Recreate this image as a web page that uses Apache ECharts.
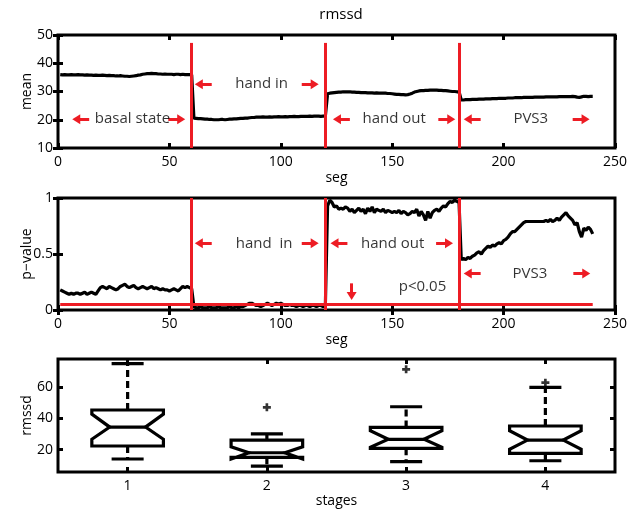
<!DOCTYPE html>
<html><head><meta charset="utf-8">
<script src="https://cdn.jsdelivr.net/npm/echarts@6/dist/echarts.min.js"></script>
<style>html,body{margin:0;padding:0;background:#fff}#c{width:641px;height:515px}</style>
</head><body><div id="c"></div>
<script>
// ---------- data ----------
const titleText = 'rmssd';
const xTicksSeg = [0, 50, 100, 150, 200, 250];
const stages = ['1', '2', '3', '4'];

// mean rmssd per segment (seg 1..240)
const meanVals = [
36.0,35.9,36.0,35.9,35.9,36.0,35.9,35.9,36.0,35.9,
35.9,35.8,35.9,35.8,35.8,35.7,35.8,35.7,35.7,35.8,
35.7,35.6,35.7,35.6,35.6,35.5,35.5,35.6,35.5,35.4,
35.4,35.3,35.4,35.5,35.6,35.8,35.9,36.1,36.2,36.3,
36.3,36.4,36.3,36.3,36.2,36.2,36.1,36.2,36.1,36.1,
36.1,36.0,36.1,36.1,36.0,36.1,36.0,36.0,36.0,35.9,
20.6,20.5,20.4,20.4,20.3,20.2,20.2,20.1,20.1,20.0,
20.0,20.0,20.1,20.1,20.0,20.1,20.2,20.2,20.3,20.3,
20.4,20.5,20.5,20.6,20.6,20.7,20.8,20.8,20.9,20.9,
20.9,21.0,20.9,20.9,21.0,20.9,21.0,21.0,21.1,21.0,
21.0,21.1,21.0,21.1,21.1,21.2,21.1,21.1,21.2,21.2,
21.2,21.2,21.3,21.2,21.3,21.3,21.3,21.2,21.3,21.3,
29.2,29.4,29.5,29.6,29.7,29.8,29.8,29.9,29.9,29.9,
29.9,29.8,29.8,29.7,29.7,29.6,29.6,29.6,29.5,29.5,
29.5,29.4,29.5,29.4,29.4,29.4,29.4,29.3,29.3,29.2,
29.1,29.0,29.0,28.9,28.9,28.8,28.9,29.1,29.4,29.8,
30.0,30.2,30.3,30.3,30.4,30.4,30.5,30.5,30.5,30.5,
30.4,30.4,30.3,30.3,30.2,30.1,30.0,30.0,29.9,29.9,
27.0,27.0,27.1,27.1,27.1,27.2,27.2,27.2,27.3,27.3,
27.3,27.4,27.4,27.4,27.5,27.5,27.5,27.6,27.6,27.6,
27.6,27.7,27.7,27.7,27.8,27.8,27.8,27.8,27.9,27.9,
27.9,27.9,27.9,28.0,28.0,28.0,28.0,28.0,28.1,28.1,
28.1,28.1,28.1,28.1,28.2,28.2,28.2,28.2,28.2,28.2,
28.3,28.2,28.0,27.9,28.1,28.3,28.3,28.2,28.3,28.3
];

// p-value per segment (seg 1..240)
const pVals = [
0.18,0.17,0.16,0.15,0.14,0.15,0.14,0.15,0.15,0.14,
0.15,0.16,0.14,0.15,0.16,0.15,0.14,0.17,0.20,0.21,
0.20,0.19,0.21,0.20,0.19,0.18,0.19,0.21,0.22,0.23,
0.21,0.20,0.21,0.22,0.20,0.19,0.20,0.21,0.20,0.19,
0.20,0.21,0.19,0.20,0.19,0.18,0.19,0.18,0.18,0.17,
0.18,0.19,0.18,0.17,0.19,0.21,0.20,0.21,0.20,0.19,
0.03,0.02,0.02,0.03,0.02,0.02,0.02,0.03,0.02,0.02,
0.02,0.03,0.02,0.02,0.02,0.02,0.03,0.02,0.02,0.03,
0.02,0.03,0.03,0.04,0.05,0.06,0.06,0.05,0.04,0.04,
0.03,0.04,0.05,0.06,0.05,0.04,0.05,0.06,0.05,0.06,
0.05,0.04,0.04,0.05,0.04,0.04,0.03,0.04,0.04,0.03,
0.04,0.04,0.03,0.04,0.04,0.03,0.04,0.04,0.03,0.04,
0.93,0.98,0.96,0.92,0.93,0.90,0.91,0.90,0.92,0.91,
0.88,0.90,0.87,0.89,0.91,0.88,0.90,0.86,0.91,0.88,
0.92,0.87,0.90,0.89,0.88,0.90,0.87,0.89,0.88,0.87,
0.88,0.87,0.89,0.86,0.88,0.87,0.85,0.86,0.88,0.87,
0.90,0.84,0.88,0.85,0.80,0.88,0.82,0.87,0.89,0.90,
0.88,0.91,0.93,0.92,0.95,0.97,0.96,0.98,0.97,0.96,
0.45,0.46,0.45,0.47,0.46,0.48,0.49,0.51,0.52,0.50,
0.53,0.55,0.57,0.56,0.58,0.57,0.59,0.60,0.59,0.62,
0.63,0.65,0.68,0.70,0.70,0.72,0.74,0.76,0.78,0.79,
0.79,0.79,0.79,0.79,0.79,0.79,0.79,0.79,0.80,0.79,
0.81,0.79,0.80,0.82,0.80,0.83,0.85,0.87,0.84,0.82,
0.80,0.76,0.78,0.70,0.65,0.73,0.71,0.74,0.72,0.68
];

// stage boundaries (segments) and significance level
const boundaries = [60, 120, 180];
const pThreshold = 0.05;

// notched box plot per stage: [whiskerLow, q1, notchLow, median, notchHigh, q3, whiskerHigh]
const boxStats = [
  [14.0, 22.3, 26.6, 34.4, 42.7, 45.3, 75.0],
  [9.5, 15.1, 14.0, 18.0, 21.8, 26.1, 30.0],
  [12.3, 20.8, 21.5, 26.6, 32.1, 34.2, 47.4],
  [12.9, 17.6, 20.2, 26.1, 32.1, 35.1, 59.8]
];
// outliers: [stage index, value]
const outliers = [[1, 47.0], [2, 71.3], [3, 62.8]];

// annotations: [x, y, text]
const topTexts = [[33.4, 20.2, 'basal state'], [91.4, 32.6, 'hand in'], [150.9, 20.2, 'hand out'], [212.2, 20.2, 'PVS3']];
const midTexts = [[92.5, 0.595, 'hand  in'], [150.2, 0.595, 'hand out'], [211.8, 0.327, 'PVS3'], [163.6, 0.208, 'p<0.05']];
// arrows: [xFrom, yFrom, xTo, yTo] (head at "to")
const topArrows = [
  [14, 20.2, 8.2, 20.2], [49.5, 20.2, 55.3, 20.2],
  [69, 32.6, 63.2, 32.6], [109.4, 32.6, 115.2, 32.6],
  [131, 20.2, 125.2, 20.2], [170.7, 20.2, 176.5, 20.2],
  [189.7, 20.2, 183.9, 20.2], [231, 20.2, 236.8, 20.2]
];
const midArrows = [
  [69, 0.595, 63.2, 0.595], [109.4, 0.595, 115.2, 0.595],
  [129.9, 0.595, 124.1, 0.595], [169.7, 0.595, 175.5, 0.595],
  [189.7, 0.327, 183.9, 0.327], [231.3, 0.327, 237.1, 0.327],
  [131.8, 0.238, 131.8, 0.125]
];

// ---------- chart ----------
const FONT = '"Open Sans", "Noto Sans", sans-serif';
const RED = '#ed1c24';
const segs = meanVals.map((_, i) => i + 1);

const tick = {show: true, inside: true, length: 5, lineStyle: {color: '#000', width: 3}};
const lbl = {color: '#000', fontSize: 14, fontFamily: FONT};
const nameStyle = {color: '#000', fontSize: 14, fontFamily: FONT};

function segAxis(g, pos, withLabel) {
  return {
    gridIndex: g, type: 'value', min: 0, max: 250, interval: 50, position: pos,
    axisLine: {show: false}, splitLine: {show: false}, axisTick: tick,
    axisLabel: Object.assign({show: withLabel, margin: 7}, lbl),
    name: withLabel ? 'seg' : '', nameLocation: 'middle', nameGap: 23, nameTextStyle: nameStyle
  };
}
function valAxis(g, pos, min, max, interval, name, custom) {
  const a = {
    gridIndex: g, type: 'value', min: min, max: max, position: pos,
    axisLine: {show: false}, splitLine: {show: false},
    axisTick: Object.assign({}, tick),
    axisLabel: Object.assign({show: pos === 'left', margin: 5}, lbl),
    name: pos === 'left' ? name : '', nameLocation: 'middle', nameGap: 24, nameRotate: 90,
    nameMoveOverlap: false, nameTextStyle: nameStyle
  };
  if (custom) { a.axisTick.customValues = custom; a.axisLabel.customValues = custom; }
  else a.interval = interval;
  return a;
}
function stageAxis(pos) {
  return {
    gridIndex: 2, type: 'category', data: stages, position: pos, boundaryGap: true,
    axisLine: {show: false}, splitLine: {show: false},
    axisTick: Object.assign({alignWithLabel: true}, tick),
    axisLabel: Object.assign({show: pos === 'bottom', margin: 7}, lbl),
    name: pos === 'bottom' ? 'stages' : '', nameLocation: 'middle', nameGap: 17, nameTextStyle: nameStyle
  };
}

function arrowLines(arr) {
  return arr.map(a => [
    {coord: [a[0], a[1]], symbol: 'none'},
    {coord: [a[2], a[3]], symbol: 'triangle', symbolSize: [10, 8]}
  ]);
}
function redAnnot(xi, yi, lines) {
  return {
    type: 'line', xAxisIndex: xi, yAxisIndex: yi, data: [], z: 2, silent: true,
    markLine: {
      silent: true, animation: false, symbol: ['none', 'none'],
      label: {show: false}, emphasis: {disabled: true},
      lineStyle: {color: RED, width: 3, type: 'solid'},
      data: lines
    }
  };
}
function textSeries(xi, yi, arr) {
  return {
    type: 'scatter', xAxisIndex: xi, yAxisIndex: yi, symbolSize: 1, z: 5, silent: true,
    itemStyle: {color: 'rgba(0,0,0,0)'},
    label: {show: true, position: 'inside', formatter: p => p.data.name, color: '#000', fontSize: 15, fontFamily: FONT},
    data: arr.map(t => ({value: [t[0], t[1]], name: t[2]}))
  };
}

const topRed = boundaries.map(b => [{coord: [b, 10]}, {coord: [b, 47.2]}]).concat(arrowLines(topArrows));
const midRed = boundaries.map(b => [{coord: [b, 0]}, {coord: [b, 1]}])
  .concat([[{coord: [1, pThreshold]}, {coord: [240, pThreshold]}]])
  .concat(arrowLines(midArrows));

function renderBox(params, api) {
  const idx = api.value(0);
  const wl = api.value(1), q1 = api.value(2), nl = api.value(3), med = api.value(4),
        nh = api.value(5), q3 = api.value(6), wh = api.value(7);
  const band = api.size([1, 0])[0];
  const cx = api.coord([idx, med])[0];
  const y = v => api.coord([idx, v])[1];
  const hw = band * 0.257, nw = hw * 0.5, cw = band * 0.115;
  const st = {stroke: '#000', lineWidth: 3.2, fill: null};
  const dash = {stroke: '#000', lineWidth: 3.2, lineDash: [7, 4]};
  return {
    type: 'group',
    children: [
      {type: 'line', shape: {x1: cx, y1: y(q3), x2: cx, y2: y(wh)}, style: dash},
      {type: 'line', shape: {x1: cx, y1: y(q1), x2: cx, y2: y(wl)}, style: dash},
      {type: 'line', shape: {x1: cx - cw, y1: y(wh), x2: cx + cw, y2: y(wh)}, style: st},
      {type: 'line', shape: {x1: cx - cw, y1: y(wl), x2: cx + cw, y2: y(wl)}, style: st},
      {type: 'polygon', shape: {points: [
        [cx - hw, y(q3)], [cx - hw, y(nh)], [cx - nw, y(med)], [cx - hw, y(nl)], [cx - hw, y(q1)],
        [cx + hw, y(q1)], [cx + hw, y(nl)], [cx + nw, y(med)], [cx + hw, y(nh)], [cx + hw, y(q3)]
      ]}, style: st},
      {type: 'line', shape: {x1: cx - nw, y1: y(med), x2: cx + nw, y2: y(med)}, style: st}
    ]
  };
}

const gridBase = {left: 58, right: 26, show: true, borderColor: '#000', borderWidth: 3, backgroundColor: 'transparent'};

const option = {
  animation: false,
  backgroundColor: '#fff',
  title: {text: titleText, left: 336, top: 2, textAlign: 'center',
    textStyle: {color: '#000', fontSize: 15, fontWeight: 'normal', fontFamily: FONT}},
  grid: [
    Object.assign({top: 35, height: 113}, gridBase),
    Object.assign({top: 198, height: 112}, gridBase),
    Object.assign({top: 359, height: 113}, gridBase)
  ],
  xAxis: [
    segAxis(0, 'bottom', true), segAxis(0, 'top', false),
    segAxis(1, 'bottom', true), segAxis(1, 'top', false),
    stageAxis('bottom'), stageAxis('top')
  ],
  yAxis: [
    valAxis(0, 'left', 10, 50, 10, 'mean'), valAxis(0, 'right', 10, 50, 10, ''),
    valAxis(1, 'left', 0, 1, 0.5, 'p\u2212value'), valAxis(1, 'right', 0, 1, 0.5, ''),
    valAxis(2, 'left', 5.7, 77.9, null, 'rmssd', [20, 40, 60]), valAxis(2, 'right', 5.7, 77.9, null, '', [20, 40, 60])
  ],
  series: [
    redAnnot(0, 0, topRed),
    {type: 'line', xAxisIndex: 0, yAxisIndex: 0, z: 3, showSymbol: false, silent: true,
     lineStyle: {color: '#000', width: 3.2}, data: meanVals.map((v, i) => [segs[i], v])},
    textSeries(0, 0, topTexts),
    {type: 'line', xAxisIndex: 2, yAxisIndex: 2, z: 1, showSymbol: false, silent: true,
     lineStyle: {color: '#000', width: 3.2}, data: pVals.map((v, i) => [segs[i], v])},
    redAnnot(2, 2, midRed),
    textSeries(2, 2, midTexts),
    {type: 'custom', xAxisIndex: 4, yAxisIndex: 4, silent: true, renderItem: renderBox,
     encode: {x: 0, y: [1, 2, 3, 4, 5, 6, 7]},
     data: boxStats.map((b, i) => [i].concat(b))},
    {type: 'scatter', xAxisIndex: 4, yAxisIndex: 4, silent: true, z: 4,
     symbol: 'path://M3,0H6V3H9V6H6V9H3V6H0V3H3Z', symbolSize: 8,
     itemStyle: {color: '#000'}, data: outliers}
  ]
};

const chart = echarts.init(document.getElementById('c'), null, {renderer: 'canvas'});
chart.setOption(option);
</script>
</body></html>
